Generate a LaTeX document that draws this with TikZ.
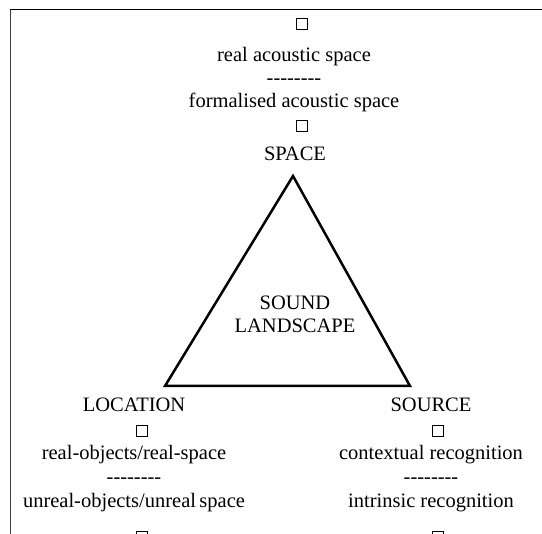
\documentclass[tikz,border=0pt]{standalone}
\usepackage{fontspec}
\setmainfont{Liberation Serif}
\newcommand{\hyphrow}{\hbox{-}\hbox{-}\hbox{-}\hbox{-}\hbox{-}\hbox{-}\hbox{-}\hbox{-}}
\begin{document}
\begin{tikzpicture}[x=1pt,y=-1pt,
  lbl/.style={anchor=base,inner sep=0pt,font=\fontsize{20.5}{24}\selectfont},
  sq/.style={draw,line width=1.9pt,minimum width=11pt,minimum height=11pt,inner sep=0pt},
  tri/.style={draw,line width=2.5pt,line join=miter}]
\useasboundingbox (0,0) rectangle (542,534);
\clip (0,0) rectangle (542,534);
% frame
\draw[line width=1.4pt,black!75] (10.5,540) -- (10.5,9.5);
\draw[line width=1.4pt,black] (10,9.5) -- (550,9.5);
% top
\node[sq] (s1) at (302,24) {};
\node[lbl] (t1) at (294,62) {real acoustic space};
\node[lbl] (t2) at (294,85) {\hyphrow};
\node[lbl] (t3) at (294,108) {formalised acoustic space};
\node[sq] (s2) at (302,126) {};
\node[lbl] (space) at (295,161) {SPACE};
% triangle
\coordinate (A) at (293,176);
\coordinate (B) at (165,386);
\coordinate (C) at (410,386);
\draw[tri] (A) -- (B) -- (C) -- cycle;
\node[lbl] (c1) at (295,310) {SOUND};
\node[lbl] (c2) at (295,333) {LANDSCAPE};
% bottom left
\node[lbl] (loc) at (134,412) {LOCATION};
\node[sq] (s3) at (142,431) {};
\node[lbl] (l1) at (134,460) {real-objects/real-space};
\node[lbl] (l2) at (134,484) {\hyphrow};
\node[lbl] (l3) at (134,508) {unreal-objects/unreal\,space};
\node[sq] (s4) at (142,537) {};
% bottom right
\node[lbl] (src) at (431,412) {SOURCE};
\node[sq] (s5) at (438,431) {};
\node[lbl] (r1) at (431,460) {contextual recognition};
\node[lbl] (r2) at (431,484) {\hyphrow};
\node[lbl] (r3) at (431,508) {intrinsic recognition};
\node[sq] (s6) at (438,537) {};
\end{tikzpicture}
\end{document}
